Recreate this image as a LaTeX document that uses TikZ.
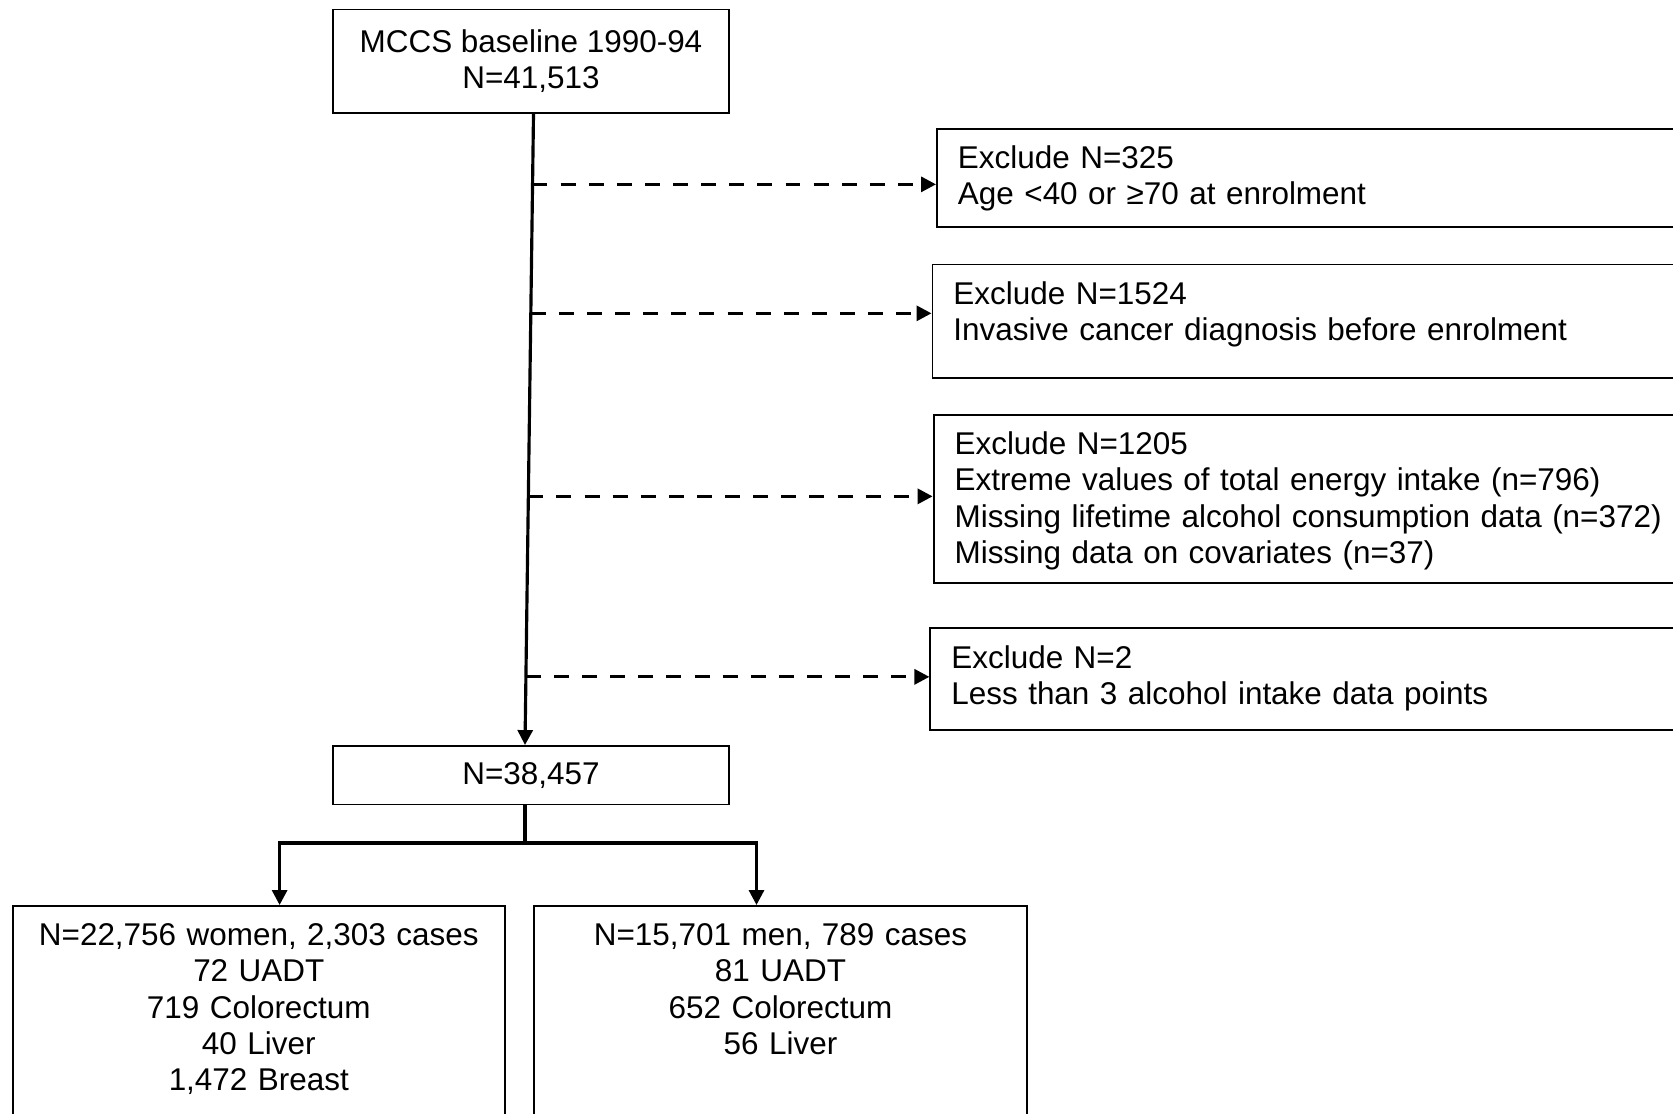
\documentclass[tikz,border=0pt]{standalone}
\usepackage{fontspec}
\setmainfont{Liberation Sans}
\usetikzlibrary{arrows.meta,calc,positioning}

\begin{document}
\begin{tikzpicture}[
    x=0.02cm, y=-0.02cm,
    every node/.style={font=\fontsize{17.9pt}{20.5pt}\selectfont},
    box/.style={
        rectangle, draw, line width=1.1pt, align=center,
        anchor=north, minimum width=7.92cm
    },
    exbox/.style={
        rectangle, draw, line width=1.1pt, anchor=north west,
        align=left, text width=16cm, inner xsep=0.42cm, inner ysep=0pt,
        text height=0.8cm
    },
    cohortbox/.style={
        rectangle, draw, line width=1.1pt, anchor=north,
        align=center, inner xsep=0pt, inner ysep=0pt,
        text height=0.8cm, text depth=6cm
    },
    mainarrow/.style={line width=1.8pt, -{Triangle[length=8.5pt,width=8.5pt]}},
    exarrow/.style={mainarrow, dash pattern=on 8.5pt off 7.5pt}
]

\useasboundingbox (0,0) rectangle (1673,1113);
\clip (0,0) rectangle (1673,1113);

% boxes
\node[box, minimum height=2.07cm] (baseline) at (531,8.5)
    {MCCS baseline 1990-94\\N=41,513};
\node[box, minimum height=1.17cm] (pooled) at (531,745) {N=38,457};

\node[exbox, text depth=1.16cm] (ex1) at (936,128)
    {Exclude N=325\\Age <40 or ≥70 at enrolment};
\node[exbox, text depth=1.48cm] (ex2) at (931.5,263.5)
    {Exclude N=1524\\Invasive cancer diagnosis before enrolment};
\node[exbox, text depth=2.57cm] (ex3) at (932.6,414)
    {Exclude N=1205\\Extreme values of total energy intake (n=796)\\Missing lifetime alcohol consumption data (n=372)\\Missing data on covariates (n=37)};
\node[exbox, text depth=1.23cm] (ex4) at (929.4,627.4)
    {Exclude N=2\\Less than 3 alcohol intake data points};

\node[cohortbox, text width=9.84cm] (women) at (258.8,905)
    {N=22,756 women, 2,303 cases\\72 UADT\\719 Colorectum\\40 Liver\\1,472 Breast};
\node[cohortbox, text width=9.88cm] (men) at (780.5,905)
    {N=15,701 men, 789 cases\\81 UADT\\652 Colorectum\\56 Liver};

% connectors
\coordinate (top) at ([xshift=0.05cm]baseline.south);
\coordinate (bot) at ([xshift=-0.12cm]pooled.north);
\draw[mainarrow] (top) -- (bot);
\foreach \p/\b in {0.1116/ex1, 0.316/ex2, 0.606/ex3, 0.892/ex4} {
    \path (top) -- (bot) coordinate[pos=\p] (j);
    \draw[exarrow] (j) -- (j -| \b.west);
}

\coordinate (split) at (525,843);
\coordinate (wl) at (279.6,843);
\coordinate (wr) at (756.5,843);
\draw[line width=1.8pt] (pooled.south -| split) -- (split);
\draw[line width=1.8pt, {Triangle[length=8.5pt,width=8.5pt]}-{Triangle[length=8.5pt,width=8.5pt]}]
    (wl |- women.north) -- (wl) -- (wr) -- (wr |- men.north);

\end{tikzpicture}
\end{document}
